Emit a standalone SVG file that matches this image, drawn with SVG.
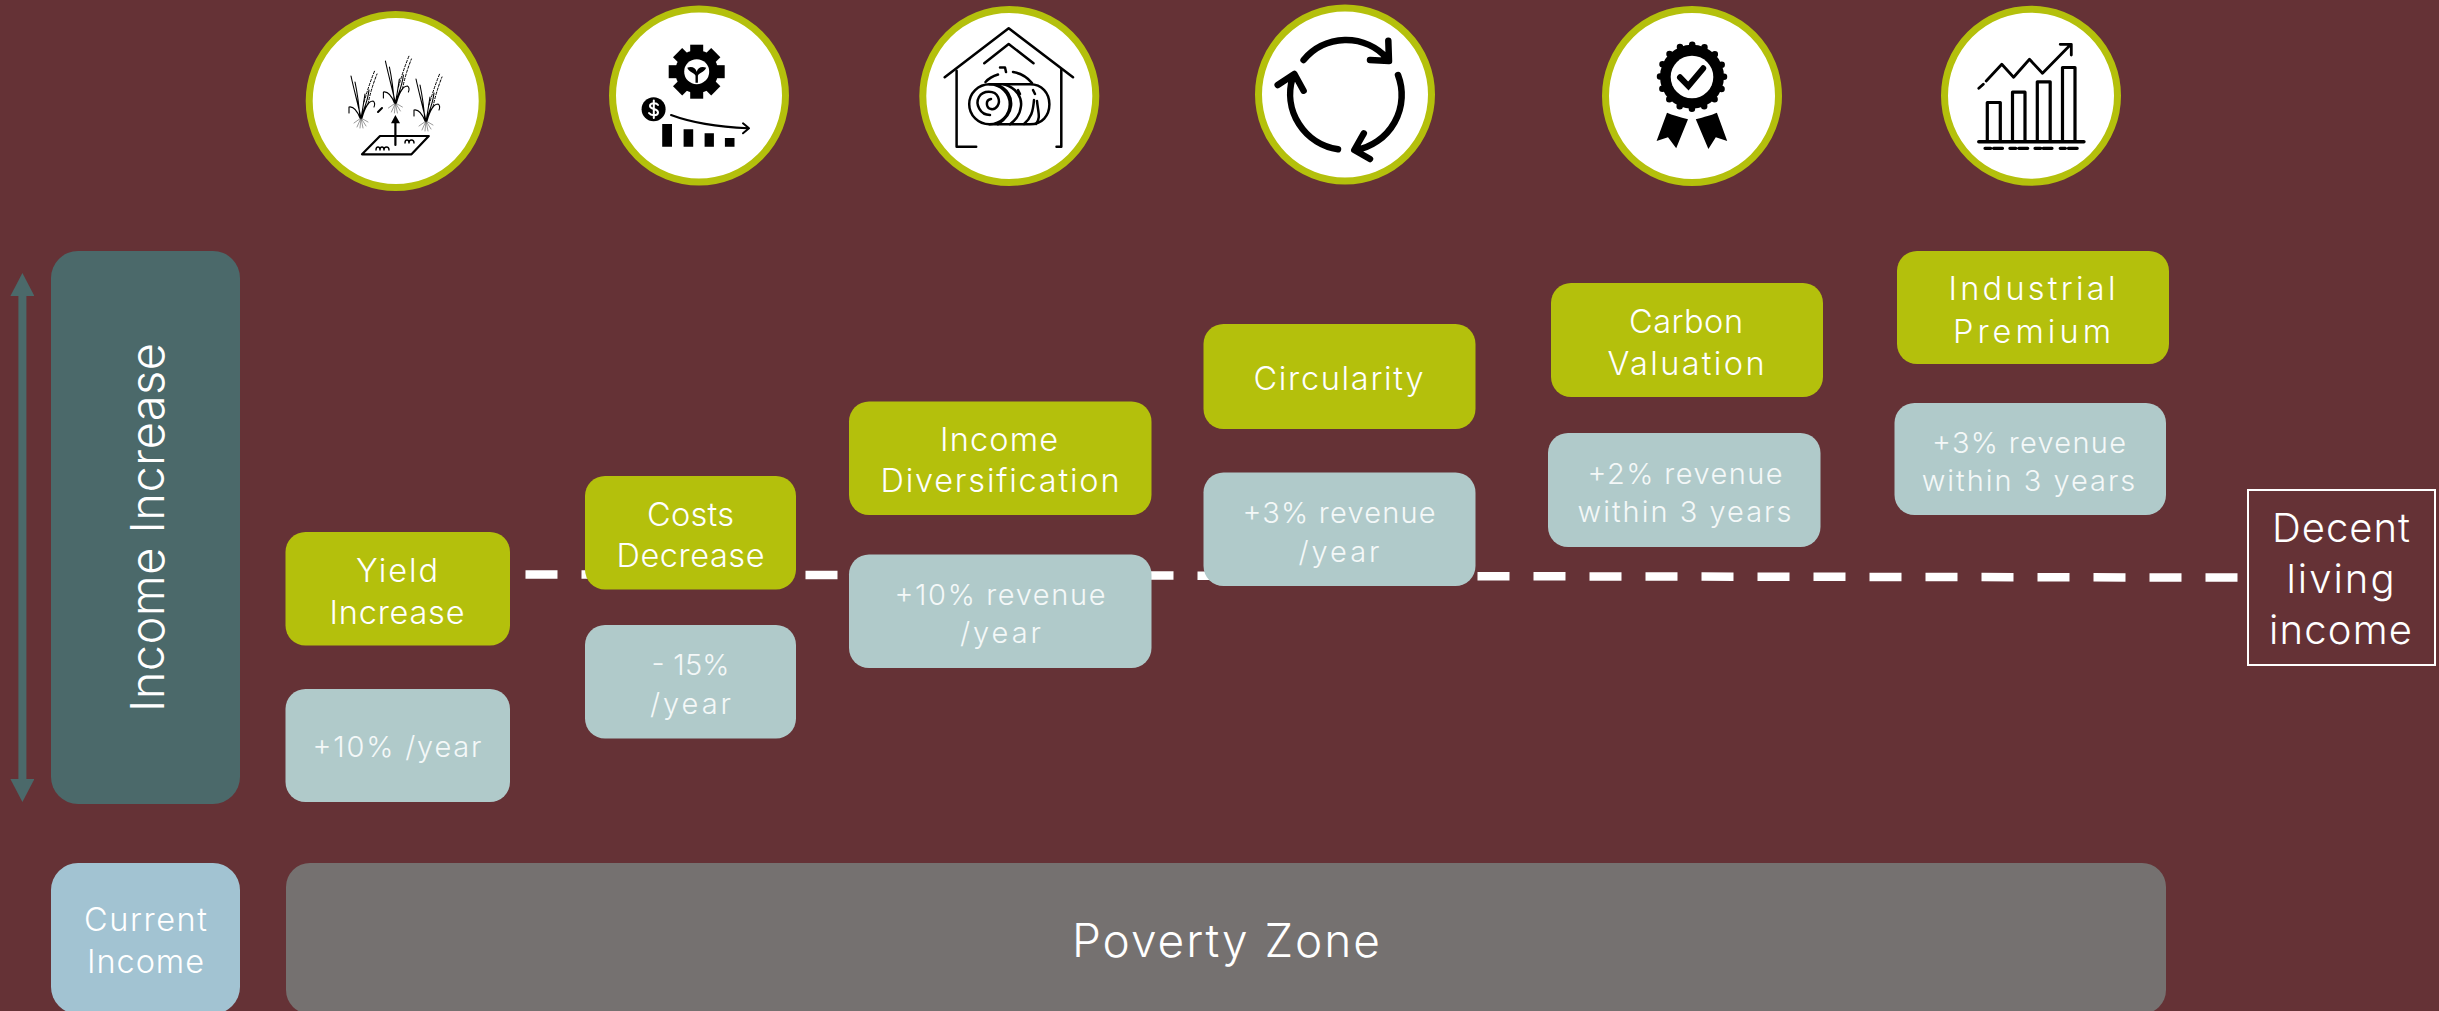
<svg xmlns="http://www.w3.org/2000/svg" xmlns:xlink="http://www.w3.org/1999/xlink" width="2439" height="1011" viewBox="0 0 2439 1011">
<style>
text{font-family:Inter,"Open Sans","Liberation Sans",sans-serif;font-weight:300;fill:#fff;text-anchor:middle}
.t31{font-size:32.5px}.t28{font-size:29px;fill:#f4f8f8}.t38{font-size:40px}.t44{font-size:46px}.t45{font-size:47px}
.lime{fill:#b4c00c}.pale{fill:#b0caca}
.ring{fill:#fff;stroke:#b4c00c;stroke-width:7}
.ink{fill:none;stroke:#000;stroke-linecap:round;stroke-linejoin:round}
.solid{fill:#000}
</style>
<defs>
<marker id="head" viewBox="0 0 23 24" refX="0" refY="12" markerWidth="23" markerHeight="24" markerUnits="userSpaceOnUse" orient="auto-start-reverse"><path d="M0 0L23 12L0 24Z" fill="#4b696a"/></marker>
<g id="plant">
<path class="ink" stroke-width="1.100" d="M0 0C-3-14-7-28-10-42M-1 0C-2-12-3-22-6-36M0 0C2-10 3-18 4-24M0 0C4-12 7-18 8-28M-1 0C-3-5-7-12-12-11C-12-9-12-7-12-5M1 0C3-7 6-17 12-17C14-16 14-13 13-11"/>
<path class="ink" stroke-width="1" stroke-dasharray="2.500 1.800" d="M3-16C6-26 9-36 14-48M7-14C9-24 12-34 16-44"/>
<path class="ink" stroke-width=".4" d="M0 0L-4 9M0 0L-1 10M0 0L2 10M0 0L5 8M0 0L-7 5M0 0L7 4"/>
</g>
</defs>
<rect width="2439" height="1011" fill="#653236"/>

<g id="connectors">
<line x1="525.5" y1="574.4" x2="2238" y2="577.6" stroke="#fff" stroke-width="8.5" stroke-dasharray="32 24"/>
<line x1="22.4" y1="296" x2="22.4" y2="779" stroke="#4b696a" stroke-width="8" marker-start="url(#head)" marker-end="url(#head)"/>
</g>

<g id="income-increase"><rect x="51" y="251" width="189" height="553" rx="27" fill="#4b696a"/><text class="t45" transform="rotate(-90 164 527.5)" x="164" y="527.5" textLength="369">Income Increase</text></g>
<g id="current-income"><rect x="51" y="863" width="189" height="151" rx="27" fill="#a2c3d2"/><text class="t31" x="145.5" y="931" textLength="123">Current</text><text class="t31" x="145.5" y="972.5" textLength="117">Income</text></g>
<g id="poverty-zone"><rect x="286" y="863" width="1880" height="151" rx="24" fill="#757170"/><text class="t44" x="1226" y="957" textLength="308">Poverty Zone</text></g>

<g id="yield-increase"><rect class="lime" x="285.5" y="532" width="224.5" height="113.5" rx="20"/><text class="t31" x="397" y="582" textLength="82">Yield</text><text class="t31" x="397" y="623.5" textLength="135">Increase</text></g>
<g id="yield-value"><rect class="pale" x="285.5" y="689" width="224.5" height="113" rx="20"/><text class="t28" x="397" y="757" textLength="169">+10% /year</text></g>
<g id="costs-decrease"><rect class="lime" x="585" y="476" width="211" height="113.500" rx="20"/><text class="t31" x="690.5" y="526" textLength="87">Costs</text><text class="t31" x="690.5" y="567" textLength="148">Decrease</text></g>
<g id="costs-value"><rect class="pale" x="585" y="625" width="211" height="113.500" rx="20"/><text class="t28" x="690.5" y="675" textLength="78">- 15%</text><text class="t28" x="690.5" y="714" textLength="81">/year</text></g>
<g id="income-diversification"><rect class="lime" x="849" y="401.5" width="302.5" height="113.500" rx="20"/><text class="t31" x="999" y="451" textLength="118">Income</text><text class="t31" x="1000" y="492" textLength="239">Diversification</text></g>
<g id="diversification-value"><rect class="pale" x="849" y="554.5" width="302.5" height="113.500" rx="20"/><text class="t28" x="1000" y="604.5" textLength="211">+10% revenue</text><text class="t28" x="1000.5" y="642.5" textLength="81">/year</text></g>
<g id="circularity"><rect class="lime" x="1203.5" y="324" width="272" height="105" rx="20"/><text class="t31" x="1338.5" y="390" textLength="170">Circularity</text></g>
<g id="circularity-value"><rect class="pale" x="1203.5" y="472.5" width="272" height="113.500" rx="20"/><text class="t28" x="1339" y="522.5" textLength="193">+3% revenue</text><text class="t28" x="1339" y="561.5" textLength="81">/year</text></g>
<g id="carbon-valuation"><rect class="lime" x="1551" y="283" width="272" height="114" rx="20"/><text class="t31" x="1686" y="333" textLength="114">Carbon</text><text class="t31" x="1686" y="375" textLength="157">Valuation</text></g>
<g id="carbon-value"><rect class="pale" x="1548" y="433" width="272.5" height="114" rx="20"/><text class="t28" x="1685" y="484" textLength="195">+2% revenue</text><text class="t28" x="1684.5" y="522" textLength="214">within 3 years</text></g>
<g id="industrial-premium"><rect class="lime" x="1897" y="251" width="272" height="113" rx="20"/><text class="t31" x="2032" y="300" textLength="167">Industrial</text><text class="t31" x="2032" y="342.5" textLength="158">Premium</text></g>
<g id="industrial-value"><rect class="pale" x="1894.5" y="403" width="271.5" height="112" rx="20"/><text class="t28" x="2029" y="452.5" textLength="194">+3% revenue</text><text class="t28" x="2028.5" y="490.5" textLength="213.5">within 3 years</text></g>
<g id="decent-living-income"><rect x="2248" y="490" width="187" height="175" fill="none" stroke="#fff" stroke-width="2"/><text class="t38" x="2341" y="541.5" textLength="138">Decent</text><text class="t38" x="2340.5" y="592.5" textLength="108">living</text><text class="t38" x="2340.5" y="644" textLength="143">income</text></g>

<g id="icon-yield">
<circle class="ring" cx="395.7" cy="101" r="86.5"/>
<use xlink:href="#plant" href="#plant" x="361" y="118"/>
<use xlink:href="#plant" href="#plant" x="395.4" y="103"/>
<use xlink:href="#plant" href="#plant" x="426" y="121"/>
<path class="ink" stroke-width="2" d="M378 112L382 108"/>
<path class="ink" stroke-width="2.2" d="M380 136H428.8L411.5 154.3H362ZM395.4 145V122"/>
<path class="solid" d="M395.4 115L391 123.3H400Z"/>
<path class="ink" stroke-width="1.4" d="M376 150C376 146 380 146 380 150C380 146 384 146 384 150C384 146 389 146 389 150M405 143C405 139 409 139 409 143C409 139 414 139 414 143"/>
</g>

<g id="icon-costs">
<circle class="ring" cx="699" cy="95.5" r="86.5"/>
<g transform="translate(696.7 71.7)">
<circle class="solid" r="21.500"/>
<g class="solid"><rect x="-6.500" y="-27" width="13" height="54"/><rect x="-28" y="-6.500" width="56" height="13"/><rect x="-6.500" y="-27" width="13" height="54" transform="rotate(45)"/><rect x="-6.500" y="-27" width="13" height="54" transform="rotate(-45)"/></g>
<circle r="12.5" fill="#fff"/>
<path class="solid" d="M-1.2 11V4C-2 1-7 1-9.5-4C-5-6-1-4 0 0C1-4 5-6 9.5-4C7 1 2 1 1.2 4V11Z"/>
</g>
<circle class="solid" cx="653.6" cy="109.3" r="12"/>
<path class="ink" style="stroke:#fff" stroke-width="2" d="M658 105C656 102 650 103 650 106C650 110 658 108 658 112.500C658 116 651 116 649 113M653.8 100.500V118"/>
<path class="ink" stroke-width="2" d="M671 115C695 124 720 127 748 128.300M743 123.300L749 128.300L743 133.300"/>
<path class="solid" d="M662.200 124H672V146.700H662.200ZM683.600 129.300H693.200V146.700H683.600ZM704.600 133.300H713.900V146.700H704.600ZM724.900 138H734.500V146.700H724.900Z"/>
</g>

<g id="icon-diversification">
<circle class="ring" cx="1009.300" cy="96" r="86.500"/>
<g class="ink" stroke-width="2.500">
<path d="M944.700 77.300L1008.700 28.300L1073 77.300M984.300 63.300L1008.700 44L1033.500 63.300"/>
<path d="M956.600 70.700V146.700H976.200M1061.300 69.300V146.700H1056.500"/>
<ellipse cx="989.500" cy="104.300" rx="20.300" ry="20"/>
<path d="M989.500 84.300H1030C1042 84.300 1049.400 93 1049.400 104.300C1049.400 115.600 1042 124.300 1030 124.300H989.500"/>
<path d="M995 84.300C1008 88 1012 98 1011 106C1010 116 1003 121 998 124.300M1004 84.300C1017 88 1022 98 1021 106C1020 116 1014 121 1010 124.300"/>
<path d="M1024 124C1031 118 1033 112 1034 100M1036 124C1041 118 1038 112 1037 101M1018 90L1020 94M1033 90L1035 94"/>
<path d="M990 115C980 115 975 104 979 97C983 90 995 90 998 97C1001 104 996 110 991 109C986 108 985 100 991 99"/>
<path d="M985.500 82C989 78 993 76 998 74.500M1013 72C1020 73 1027 77 1032 83M1000 67.500H1005L1006 72"/>
</g>
</g>

<g id="icon-circularity">
<circle class="ring" cx="1345" cy="94.500" r="86.500"/>
<g class="ink" stroke-width="6.500">
<path d="M1303.600 60A55 55 0 0 1 1386.800 58M1388.300 40.700L1389 61L1370 60"/>
<path d="M1398 75A56 56 0 0 1 1356 150M1363.800 133.300L1354.300 150L1370 159"/>
<path d="M1338 149.300A56 56 0 0 1 1292.500 78M1277.700 85L1294.400 74L1303.600 90.700"/>
</g>
</g>

<g id="icon-carbon">
<circle class="ring" cx="1692" cy="96" r="86.500"/>
<circle class="solid" cx="1692" cy="76.700" r="32"/>
<circle cx="1692" cy="76.700" r="32" fill="none" stroke="#000" stroke-width="6.500" stroke-linecap="round" stroke-dasharray="0 12.566"/>
<circle cx="1692" cy="77" r="21.300" fill="#fff"/>
<path class="ink" stroke-width="6" stroke-linecap="butt" style="stroke-linejoin:miter" d="M1680 77.300L1688.400 86L1703.200 68.300"/>
<path class="solid" d="M1667 112.700C1672 115 1680 117 1688 119.300L1676.200 148.300L1668 137.300L1656.600 141ZM1716.900 112.700C1712 115 1704 117 1695.800 119.300L1708.400 149L1715.800 137.300L1727.200 141Z"/>
</g>

<g id="icon-premium">
<circle class="ring" cx="2031" cy="95.700" r="86.500"/>
<g class="ink" stroke-width="3.200">
<path stroke-width="3.500" d="M1978.800 141.700H2083.900"/>
<path stroke-linecap="butt" d="M1987.300 141.700V102.500H2000.300V141.700M2012.500 141.700V92.200H2025V141.700M2037.300 141.700V81.800H2050.200V141.700M2062.500 141.700V67.500H2075V141.700"/>
<path d="M1985 148.300H1990.700M1993.600 148.300H2002.500M2009.900 148.300H2015.800M2018.800 148.300H2027.700M2035 148.300H2040.600M2043.200 148.300H2052M2060.200 148.300H2065.400M2068.400 148.300H2077.200"/>
<path stroke-width="2.800" d="M1978.800 88.300L1983.300 84.300M1986.200 81L2001.800 64.300L2013.600 77.300L2029.500 59.300L2042.500 73.300L2070.200 45M2060.200 44.300H2071.300V55"/>
</g>
</g>
</svg>
